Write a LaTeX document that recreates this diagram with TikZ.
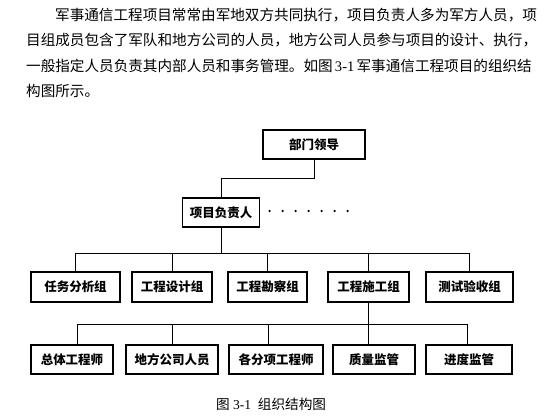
\documentclass[tikz,border=0pt]{standalone}
\usepackage{fontspec}
\setmainfont{Liberation Serif}
\newfontfamily\cjk{Noto Sans CJK SC}
\XeTeXlinebreaklocale "zh"
\XeTeXlinebreakskip = 0pt plus 2pt minus 1pt

\tikzset{
  unitbox/.style={draw, line width=1.2pt, inner sep=0pt, font=\cjk\bfseries\fontsize{12.5}{14}\selectfont},
  bodyline/.style={anchor=west, inner sep=0pt, font=\cjk\fontsize{14.6}{17}\selectfont},
  link/.style={line width=1pt},
}

\begin{document}
\begin{tikzpicture}[x=1pt,y=1pt,yscale=-1]
\useasboundingbox (0,0) rectangle (560,420);

% text above the chart
\node[bodyline] (par1) at (55,15.5) {\makebox[468pt][s]{军事通信工程项目常常由军地双方共同执行，项目负责人多为军方人员，项}};
\node[bodyline] (par2) at (26,40.5) {\makebox[498pt][s]{目组成员包含了军队和地方公司的人员，地方公司人员参与项目的设计、执行，}};
\node[bodyline] (par3) at (26,66) {\makebox[498pt][s]{一般指定人员负责其内部人员和事务管理。如图 {\rmfamily 3-1} 军事通信工程项目的组织结}};
\node[bodyline] (par4) at (26,91) {构图所示。};

% top two levels
\node[unitbox, minimum width=102pt, minimum height=29pt] (lead) at (314,144.5) {部门领导};
\node[unitbox, minimum width=77pt, minimum height=29pt] (pm) at (221,212.5) {项目负责人};
\foreach \i in {0,...,6}
  \fill ([xshift={9.5+13*\i}, yshift=-1.5pt]pm.east) circle (1.2);

% groups
\foreach \name/\x/\w/\txt in {r11/75.5/89/任务分析组, r12/172/80/工程设计组, r13/267.5/79/工程勘察组, r14/368.5/81/工程施工组, r15/469.5/87/测试验收组}
  \node[unitbox, minimum width=\w pt, minimum height=30pt] (\name) at (\x,287) {\txt};

% staff under the construction group
\foreach \name/\x/\w/\txt in {r21/72/82/总体工程师, r22/172/92/地方公司人员, r23/276/94/各分项工程师, r24/374/82/质量监管, r25/469/86/进度监管}
  \node[unitbox, minimum width=\w pt, minimum height=29pt] (\name) at (\x,359.5) {\txt};

% connectors
\draw[link] (lead.south) -- ++(0,19) -| (pm.north);
\draw[link] (pm.south) -- ++(0,26) coordinate (bus1);
\draw[link] (r11.north) |- (bus1) -| (r15.north);
\foreach \name in {r12,r13,r14}
  \draw[link] (\name.north) -- (\name.north |- bus1);
\draw[link] (r14.south) -- ++(0,22) coordinate (bus2);
\draw[link] ([xshift=5pt]r21.north) |- (bus2) -| ([xshift=-2pt]r25.north);
\foreach \name/\dx in {r22/0,r23/-8,r24/-5.5}
  \draw[link] ([xshift=\dx pt]\name.north) -- ([xshift=\dx pt]\name.north |- bus2);

% caption
\node[inner sep=0pt, font=\cjk\fontsize{13.6}{16}\selectfont] (cap) at (271,404) {图{\rmfamily\ 3-1\ \ }组织结构图};

\end{tikzpicture}
\end{document}
